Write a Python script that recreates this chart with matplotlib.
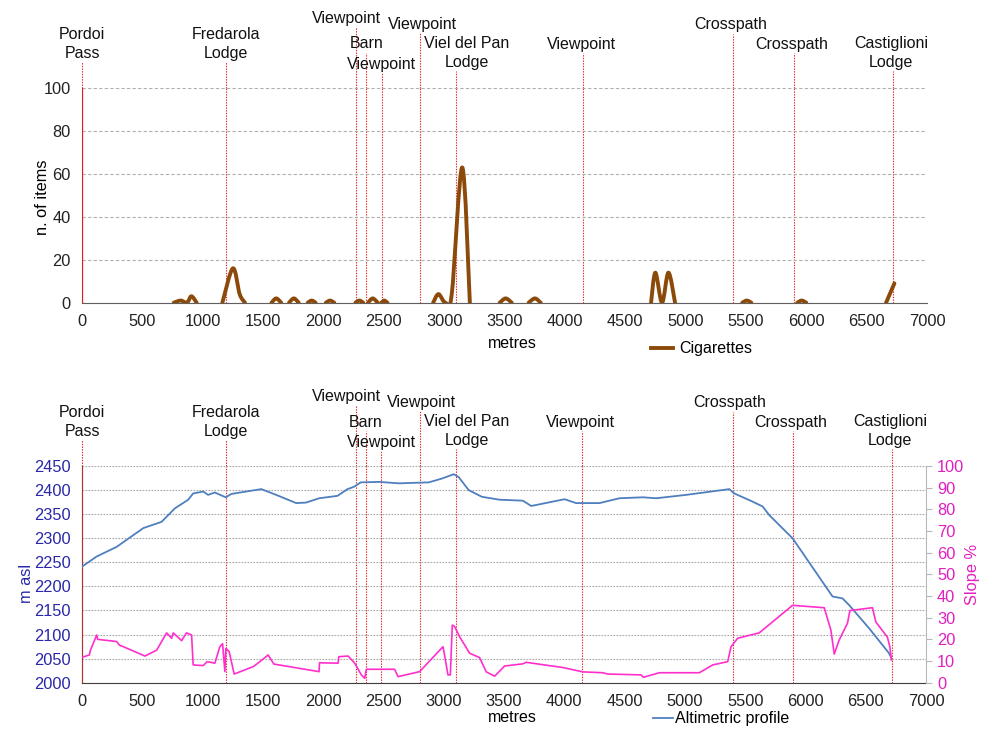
import matplotlib
matplotlib.use("Agg")
import matplotlib.pyplot as plt
from matplotlib.path import Path
from matplotlib.patches import PathPatch
import matplotlib.transforms as mtransforms
import numpy as np

plt.rcParams['font.family'] = ['Liberation Sans', 'DejaVu Sans']

# ---- data -------------------------------------------------------------
# points of interest along the trail (distance in metres)
poi_names = ["Pordoi\nPass", "Fredarola\nLodge", "Viewpoint", "Barn", "Viewpoint",
             "Viewpoint", "Viel del Pan\nLodge", "Viewpoint", "Crosspath",
             "Crosspath", "Castiglioni\nLodge"]
poi_m = [0, 1196, 2270, 2355, 2482, 2802, 3099, 4151, 5397, 5895, 6716]

# cigarette butts counted along the trail
cig_m = [760, 818, 870, 906, 950,
         1163, 1250, 1306, 1350,
         1570, 1609, 1650, 1715, 1755, 1795,
         1870, 1903, 1935, 2020, 2055, 2090,
         2265, 2297, 2330, 2370, 2408, 2450, 2480, 2504, 2530,
         2909, 2953, 3010, 3063, 3150, 3213,
         3460, 3510, 3560, 3700, 3752, 3800,
         4714, 4750, 4805, 4858, 4913,
         5470, 5507, 5545, 5925, 5962, 6000,
         6661, 6730]
cig_n = [0, 1, 0, 3, 0,
         0, 16, 4, 0,
         0, 2, 0, 0, 2, 0,
         0, 1, 0, 0, 1, 0,
         0, 1, 0, 0, 2, 0, 0, 1, 0,
         0, 4, 0, 4, 63, 0,
         0, 2, 0, 0, 2, 0,
         0, 14, 0, 14, 0,
         0, 1, 0, 0, 1, 0,
         0, 9]

# altimetric profile (m a.s.l.)
alt_m = [0, 121, 287, 508, 660, 770, 881, 922, 1005, 1046, 1101, 1192, 1239, 1363,
         1487, 1611, 1776, 1857, 1967, 2119, 2202, 2257, 2312, 2463, 2628, 2876,
         2986, 3083, 3124, 3207, 3317, 3463, 3656, 3726, 4002, 4098, 4292, 4457,
         4651, 4761, 5010, 5369, 5410, 5562, 5645, 5700, 5893, 6170, 6225, 6308,
         6363, 6528, 6694, 6708]
alt_h = [2241, 2262, 2282, 2321, 2334, 2362, 2380, 2393, 2397, 2390, 2395, 2385, 2392,
         2397, 2402, 2390, 2373, 2374, 2383, 2388, 2402, 2407, 2416, 2417, 2414, 2416,
         2424, 2433, 2427, 2400, 2386, 2380, 2378, 2367, 2381, 2373, 2373, 2383,
         2385, 2383, 2390, 2402, 2393, 2376, 2366, 2348, 2300, 2199, 2179, 2175,
         2161, 2113, 2061, 2054]

# slope (%)
slope_m = [0, 61, 70, 122, 130, 287, 310, 522, 619, 702, 743, 757, 826, 867, 909, 922,
           1005, 1038, 1102, 1143, 1166, 1185, 1193, 1221, 1262, 1420, 1475, 1544,
           1591, 1806, 1966, 1970, 2124, 2130, 2207, 2262, 2317, 2345, 2358, 2593,
           2621, 2800, 2994, 3007, 3035, 3055, 3071, 3090, 3132, 3215, 3297, 3353,
           3422, 3505, 3656, 3684, 3988, 4153, 4319, 4361, 4637, 4656, 4789, 5120,
           5231, 5355, 5383, 5438, 5617, 5893, 6156, 6211, 6239, 6280, 6349, 6369,
           6556, 6584, 6680, 6700, 6713]
slope_v = [11.7, 12.8, 15, 22, 20, 19, 17.4, 12.3, 15, 23, 20.5, 23, 19.4, 23, 22, 8.2,
           7.9, 9.7, 9, 16.6, 18, 5.1, 15.9, 14.3, 4, 7.4, 9.7, 12.8,
           8.6, 6.6, 5.1, 9.2, 9, 12, 12.3, 9, 3.6, 2, 6.2, 6.2,
           2.8, 5.1, 16.6, 12.8, 3.6, 3.6, 26.6, 26, 21.2, 13.6, 11.6, 5,
           3, 7.7, 8.7, 9.4, 7, 5, 4.6, 4, 3.6, 2.5, 4.6, 4.6,
           8.2, 9.7, 16.6, 20.5, 23, 35.7, 34.6, 24.3, 13.2, 19.7, 27.5, 33.3,
           34.6, 28, 21, 16.6, 10.5]

x_ticks = list(range(0, 7001, 500))

# label placement: height of label block centre above the plot top (px)
poi_label_x = [0, 1196, 2190, 2355, 2482, 2818, 3190, 4135, 5370, 5880, 6700]
poi_label_h = [44, 44, 70, 44, 24, 64, 35, 44, 63, 44, 35]

BROWN = "#8c4a0a"
BLUE = "#4f7fbf"
MAGENTA = "#ff2fcc"
RED = "#e02020"
FS_LABEL = 11.5
FS_TICK = 11.8
TICK_FONT = ['Liberation Sans Narrow', 'Liberation Sans']


def smooth_runs(ax, xs, ys, **kw):
    """Draw a smoothed line, leaving gaps between consecutive zero values."""
    xs = np.asarray(xs, float)
    ys = np.asarray(ys, float)
    runs, start = [], 0
    for i in range(len(xs) - 1):
        if ys[i] == 0 and ys[i + 1] == 0:
            if i > start:
                runs.append((start, i))
            start = i + 1
    if len(xs) - 1 > start:
        runs.append((start, len(xs) - 1))
    for a, b in runs:
        px, py = xs[a:b + 1], ys[a:b + 1]
        n = len(px)
        verts = [(px[0], py[0])]
        codes = [Path.MOVETO]
        for i in range(n - 1):
            i0, i3 = max(i - 1, 0), min(i + 2, n - 1)
            c1 = (px[i] + (px[i + 1] - px[i0]) / 6, py[i] + (py[i + 1] - py[i0]) / 6)
            c2 = (px[i + 1] - (px[i3] - px[i]) / 6, py[i + 1] - (py[i3] - py[i]) / 6)
            verts += [c1, c2, (px[i + 1], py[i + 1])]
            codes += [Path.CURVE4] * 3
        ax.add_patch(PathPatch(Path(verts, codes), fill=False, **kw))


def add_poi(ax, fig):
    ax_h_px = ax.get_position().height * fig.get_figheight() * fig.dpi
    trans = mtransforms.blended_transform_factory(ax.transData, ax.transAxes)
    for name, xm, lx, h in zip(poi_names, poi_m, poi_label_x, poi_label_h):
        nlines = name.count("\n") + 1
        half = 9 * nlines
        top = 1 + (h - half) / ax_h_px
        ax.plot([xm, xm], [0, 1], transform=trans, color=RED, lw=0.8,
                ls=(0, (1.2, 1.2)), clip_on=False, zorder=1)
        ax.plot([xm, xm], [1, top], transform=trans, color=RED, lw=0.8,
                ls=(0, (1.2, 1.2)), clip_on=False, zorder=1)
        ax.text(lx, 1 + h / ax_h_px, name, transform=trans, ha="center",
                va="center", fontsize=FS_LABEL, linespacing=1.3, color="#111111",
                zorder=5)


fig = plt.figure(figsize=(9.82, 7.30), dpi=100)

# ---- upper panel: cigarettes --------------------------------------------
ax1 = fig.add_axes([82 / 982, 1 - 302.7 / 730, 845 / 982, 214.7 / 730])
ax1.set_xlim(0, 7000)
ax1.set_ylim(0, 100)
smooth_runs(ax1, cig_m, cig_n, edgecolor=BROWN, lw=2.8, capstyle="round",
            joinstyle="round", zorder=4)
ax1.set_yticks(range(0, 101, 20))
ax1.set_xticks(x_ticks)
ax1.grid(axis="y", color="#b0b0b0", ls=(0, (3, 2)), lw=0.8)
for s in ("left", "right", "top"):
    ax1.spines[s].set_visible(False)
ax1.spines["bottom"].set_color("#606060")
ax1.spines["bottom"].set_zorder(3)
ax1.tick_params(length=0, pad=8, labelsize=FS_TICK, colors="#222222")
for lab in ax1.get_xticklabels() + ax1.get_yticklabels():
    lab.set_family(TICK_FONT)
ax1.set_ylabel("n. of items", fontsize=FS_TICK, family=TICK_FONT)
ax1.yaxis.set_label_coords(-0.038, 0.49)
ax1.axvline(0, color=RED, lw=0.9, zorder=2)
add_poi(ax1, fig)
fig.text(488 / 982, 1 - 343 / 730, "metres", fontsize=FS_LABEL, va="center",
         ha="left")
fig.add_artist(plt.Line2D([651 / 982, 673 / 982], [1 - 348 / 730, 1 - 348 / 730],
                          color=BROWN, lw=2.8))
fig.text(679 / 982, 1 - 348 / 730, "Cigarettes", fontsize=FS_LABEL, va="center",
         ha="left")

# ---- lower panel: altimetric profile and slope ---------------------------
ax2 = fig.add_axes([82 / 982, 1 - 682.7 / 730, 844 / 982, 216.7 / 730])
ax2.set_xlim(0, 7000)
ax2.set_ylim(2000, 2450)
ax2.plot(alt_m, alt_h, color=BLUE, lw=1.3, zorder=4)
ax2.set_xticks(x_ticks)
ax2.set_yticks(range(2000, 2451, 50))
ax2.grid(axis="y", color="#a8a8a8", ls=(0, (1.5, 1.2)), lw=0.8)
ax2.spines["top"].set_visible(False)
ax2.spines["right"].set_visible(False)
ax2.spines["left"].set_color("#b03030")
ax2.spines["bottom"].set_color("#404040")
ax2.tick_params(axis="x", length=0, pad=8, labelsize=FS_TICK, colors="#222222")
ax2.tick_params(axis="y", length=0, pad=8, labelsize=FS_TICK, colors="#2828a8")
for lab in ax2.get_xticklabels() + ax2.get_yticklabels():
    lab.set_family(TICK_FONT)
ax2.set_ylabel("m asl", fontsize=FS_TICK, family=TICK_FONT, color="#2828a8")
ax2.yaxis.set_label_coords(-0.057, 0.46)
add_poi(ax2, fig)

ax3 = ax2.twinx()
ax3.set_ylim(0, 100)
ax3.plot(slope_m, slope_v, color=MAGENTA, lw=1.2, zorder=4)
ax3.set_yticks(range(0, 101, 10))
for s in ("top", "left", "bottom"):
    ax3.spines[s].set_visible(False)
ax3.spines["right"].set_color("#b8b8b8")
ax3.tick_params(axis="y", length=4, width=0.8, color="#b8b8b8", pad=4,
                labelsize=FS_TICK, labelcolor="#e020c0")
for lab in ax3.get_yticklabels():
    lab.set_family(TICK_FONT)
ax3.set_ylabel("Slope %", fontsize=FS_TICK, family=TICK_FONT, color="#e020c0",
               rotation=90)
ax3.yaxis.set_label_coords(1.046, 0.5)

fig.text(488 / 982, 1 - 718 / 730, "metres", fontsize=FS_LABEL, va="center",
         ha="left")
fig.add_artist(plt.Line2D([653 / 982, 673 / 982], [1 - 718 / 730, 1 - 718 / 730],
                          color=BLUE, lw=1.3))
fig.text(675 / 982, 1 - 718 / 730, "Altimetric profile", fontsize=FS_LABEL,
         va="center", ha="left")

fig.savefig("out.png", dpi=100, facecolor="white")
